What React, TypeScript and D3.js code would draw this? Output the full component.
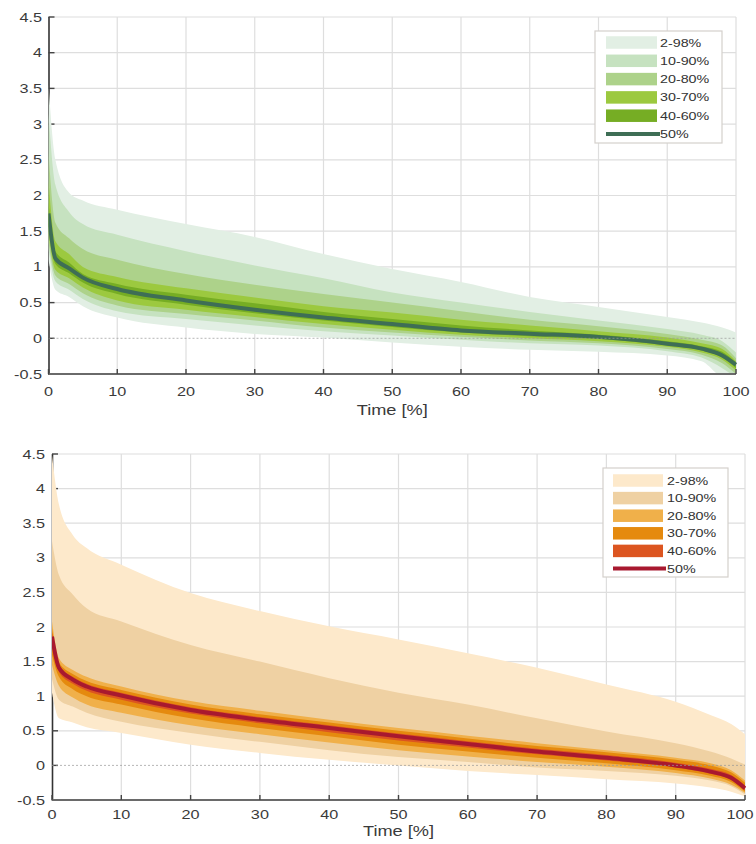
import React from 'react';
import * as d3 from 'd3';

// ---- data -------------------------------------------------------------
const timePct = [0, 1, 3, 5, 10, 20, 30, 40, 50, 60, 70, 80, 90, 95, 98, 100];
const xTicks = [0, 10, 20, 30, 40, 50, 60, 70, 80, 90, 100];
const yTicks = [-0.5, 0, 0.5, 1, 1.5, 2, 2.5, 3, 3.5, 4, 4.5];
const bandLabels = ['2-98%', '10-90%', '20-80%', '30-70%', '40-60%'];
const medianLabel = '50%';
const xTitle = 'Time [%]';

// top panel (green)
const greenP98 = [3.55, 2.5, 2.04, 1.93, 1.8, 1.6, 1.42, 1.18, 0.97, 0.79, 0.58, 0.44, 0.3, 0.22, 0.15, 0.08];
const greenP90 = [3.15, 2.15, 1.77, 1.6, 1.45, 1.22, 1.02, 0.84, 0.64, 0.5, 0.37, 0.25, 0.13, 0.05, -0.04, -0.2];
const greenP80 = [2.6, 1.62, 1.4, 1.25, 1.1, 0.9, 0.75, 0.62, 0.5, 0.38, 0.26, 0.17, 0.06, -0.02, -0.1, -0.28];
const greenP70 = [2.2, 1.36, 1.18, 1.0, 0.86, 0.7, 0.57, 0.45, 0.36, 0.26, 0.18, 0.1, 0.01, -0.07, -0.15, -0.32];
const greenP60 = [1.9, 1.22, 1.06, 0.9, 0.76, 0.61, 0.49, 0.37, 0.27, 0.18, 0.11, 0.05, -0.04, -0.11, -0.19, -0.34];
const greenP50 = [1.75, 1.12, 0.98, 0.85, 0.69, 0.53, 0.4, 0.29, 0.2, 0.11, 0.065, 0.02, -0.075, -0.145, -0.24, -0.37];
const greenP40 = [1.6, 1.04, 0.91, 0.78, 0.62, 0.47, 0.35, 0.25, 0.16, 0.08, 0.03, -0.01, -0.1, -0.17, -0.27, -0.42];
const greenP30 = [1.45, 0.96, 0.84, 0.71, 0.53, 0.4, 0.3, 0.2, 0.12, 0.05, 0.0, -0.04, -0.12, -0.2, -0.3, -0.45];
const greenP20 = [1.35, 0.88, 0.76, 0.63, 0.46, 0.34, 0.25, 0.15, 0.08, 0.02, -0.03, -0.07, -0.15, -0.23, -0.35, -0.5];
const greenP10 = [1.25, 0.8, 0.68, 0.55, 0.38, 0.27, 0.18, 0.1, 0.04, -0.02, -0.07, -0.1, -0.18, -0.27, -0.42, -0.55];
const greenP2 = [1.1, 0.68, 0.58, 0.45, 0.29, 0.15, 0.06, 0.01, -0.06, -0.12, -0.16, -0.19, -0.24, -0.32, -0.55, -0.6];

// bottom panel (orange)
const orangeP98 = [4.48, 3.77, 3.33, 3.14, 2.9, 2.49, 2.23, 2.01, 1.82, 1.62, 1.41, 1.17, 0.92, 0.73, 0.6, 0.45];
const orangeP90 = [3.24, 2.75, 2.47, 2.27, 2.08, 1.74, 1.5, 1.26, 1.05, 0.88, 0.68, 0.49, 0.32, 0.2, 0.1, 0.01];
const orangeP80 = [2.08, 1.55, 1.38, 1.28, 1.14, 0.93, 0.79, 0.66, 0.54, 0.43, 0.32, 0.22, 0.11, 0.03, -0.07, -0.22];
const orangeP70 = [1.98, 1.49, 1.32, 1.22, 1.09, 0.88, 0.74, 0.62, 0.5, 0.39, 0.28, 0.19, 0.08, 0.0, -0.1, -0.25];
const orangeP60 = [1.92, 1.45, 1.28, 1.18, 1.05, 0.84, 0.7, 0.58, 0.46, 0.35, 0.24, 0.15, 0.04, -0.05, -0.14, -0.29];
const orangeP50 = [1.86, 1.41, 1.24, 1.14, 1.01, 0.8, 0.66, 0.54, 0.42, 0.31, 0.2, 0.11, 0.0, -0.09, -0.18, -0.33];
const orangeP40 = [1.75, 1.35, 1.18, 1.08, 0.95, 0.75, 0.61, 0.48, 0.36, 0.26, 0.16, 0.07, -0.03, -0.12, -0.21, -0.36];
const orangeP30 = [1.6, 1.28, 1.1, 1.0, 0.88, 0.68, 0.54, 0.42, 0.3, 0.2, 0.11, 0.03, -0.07, -0.15, -0.24, -0.38];
const orangeP20 = [1.45, 1.15, 0.98, 0.88, 0.76, 0.58, 0.45, 0.33, 0.22, 0.13, 0.05, -0.02, -0.11, -0.19, -0.28, -0.4];
const orangeP10 = [1.25, 0.95, 0.85, 0.76, 0.63, 0.47, 0.34, 0.22, 0.12, 0.05, -0.03, -0.08, -0.15, -0.22, -0.3, -0.42];
const orangeP2 = [1.05, 0.68, 0.62, 0.55, 0.47, 0.3, 0.18, 0.08, 0.0, -0.08, -0.14, -0.2, -0.26, -0.32, -0.38, -0.45];

const greenColors = ['#e2efe4', '#c6e2c0', '#add28a', '#9cc93f', '#76ad24'];
const greenMedianColor = '#3e6e55';
const orangeColors = ['#fde9cb', '#efd1a3', '#f0b04a', '#e58a0e', '#dc5520'];
const orangeMedianColor = '#a8192f';

const FONT = 'Arial, "Liberation Sans", sans-serif';
const SX = 1.3;

type Legend = { x: number; y: number; w: number; h: number; swX: number; swW: number; swH: number; row0: number; dy: number; textX: number };

function Panel(props: {
  id: string;
  bands: number[][][];
  median: number[];
  colors: string[];
  medianColor: string;
  x0: number; x1: number; yTop: number; yBot: number;
  legend: Legend;
  tickLabelY: number; titleY: number; yLabelX: number; lastLabelDx: number;
}) {
  const { id, bands, median, colors, medianColor, x0, x1, yTop, yBot, legend: L, tickLabelY, titleY, yLabelX, lastLabelDx } = props;
  const x = d3.scaleLinear().domain([0, 100]).range([x0, x1]);
  const y = d3.scaleLinear().domain([-0.5, 4.5]).range([yBot, yTop]);
  const areaGen = (lo: number[], hi: number[]) =>
    d3.area<number>()
      .x((d) => x(d))
      .y0((_, i) => y(lo[i]))
      .y1((_, i) => y(hi[i]))
      .curve(d3.curveMonotoneX)(timePct) || '';
  const lineGen = d3.line<number>()
    .x((d) => x(d))
    .y((_, i) => y(median[i]))
    .curve(d3.curveMonotoneX);

  return (
    <g>
      <defs>
        <clipPath id={id}>
          <rect x={x0} y={yTop - 2} width={x1 - x0 + 1} height={yBot - yTop + 2} />
        </clipPath>
      </defs>
      {/* grid */}
      {yTicks.filter((t) => t !== -0.5 && t !== 0).map((t) => (
        <line key={'gy' + t} x1={x0} x2={x1} y1={y(t)} y2={y(t)} stroke="#dedede" strokeWidth={1.2} />
      ))}
      {xTicks.filter((t) => t !== 0).map((t) => (
        <line key={'gx' + t} x1={x(t)} x2={x(t)} y1={yTop} y2={yBot} stroke="#dedede" strokeWidth={1.2} />
      ))}
      {/* axes */}
      <line x1={x0 + 0.5} x2={x0 + 0.5} y1={yTop} y2={yBot + 1} stroke="#333" strokeWidth={1.6} />
      {yTicks.map((t) => (
        <line key={'ty' + t} x1={x0} x2={x0 + 6} y1={y(t)} y2={y(t)} stroke="#444" strokeWidth={1.4} />
      ))}
      {/* bands */}
      <g clipPath={`url(#${id})`}>
        {bands.map((b, i) => (
          <path key={'b' + i} d={areaGen(b[0], b[1])} fill={colors[i]} />
        ))}
        <path d={lineGen(timePct) || ''} fill="none" stroke={medianColor} strokeWidth={4} strokeLinejoin="round" />
      </g>
      <line x1={x0} x2={x1} y1={y(0)} y2={y(0)} stroke="#999" strokeWidth={1} strokeDasharray="2,2" opacity={0.7} />
      <line x1={x0} x2={x1} y1={yBot} y2={yBot} stroke="#6a6a6a" strokeWidth={2} />
      {xTicks.map((t) => (
        <line key={'tx' + t} x1={x(t)} x2={x(t)} y1={yBot} y2={yBot - 5} stroke="#444" strokeWidth={1.4} />
      ))}
      {/* labels */}
      {yTicks.map((t) => (
        <text key={'ly' + t} transform={`translate(${yLabelX},${y(t) + 4.5}) scale(${SX},1)`} textAnchor="end"
          fontFamily={FONT} fontSize={12.5} fill="#3a3a3a">{String(t)}</text>
      ))}
      {xTicks.map((t) => (
        <text key={'lx' + t} transform={`translate(${x(t) + (t === 100 ? lastLabelDx : 0)},${tickLabelY}) scale(${SX},1)`} textAnchor="middle"
          fontFamily={FONT} fontSize={12.5} fill="#3a3a3a">{String(t)}</text>
      ))}
      <text transform={`translate(${(x0 + x1) / 2},${titleY}) scale(${SX},1)`} textAnchor="middle"
        fontFamily={FONT} fontSize={14} fill="#3a3a3a">{xTitle}</text>
      {/* legend */}
      <rect x={L.x} y={L.y} width={L.w} height={L.h} fill="#fff" stroke="#d4d0cc" strokeWidth={1.2} />
      {bandLabels.map((lab, i) => (
        <g key={'lg' + i}>
          <rect x={L.swX} y={L.row0 + i * L.dy - L.swH / 2} width={L.swW} height={L.swH} fill={colors[i]} />
          <text transform={`translate(${L.textX},${L.row0 + i * L.dy + 4}) scale(${SX},1)`} fontFamily={FONT}
            fontSize={11} fill="#333">{lab}</text>
        </g>
      ))}
      <line x1={L.swX} x2={L.swX + L.swW + 3} y1={L.row0 + 5 * L.dy} y2={L.row0 + 5 * L.dy} stroke={medianColor} strokeWidth={4} />
      <text transform={`translate(${L.textX},${L.row0 + 5 * L.dy + 4}) scale(${SX},1)`} fontFamily={FONT}
        fontSize={11} fill="#333">{medianLabel}</text>
    </g>
  );
}

export default function App() {
  const greenBands = [
    [greenP2, greenP98], [greenP10, greenP90], [greenP20, greenP80], [greenP30, greenP70], [greenP40, greenP60],
  ];
  const orangeBands = [
    [orangeP2, orangeP98], [orangeP10, orangeP90], [orangeP20, orangeP80], [orangeP30, orangeP70], [orangeP40, orangeP60],
  ];
  return (
    <svg width={756} height={844} style={{ position: 'absolute', left: 0, top: 0, background: '#fff' }}>
      <rect width={756} height={844} fill="#fff" />
      <Panel id="clipTop" bands={greenBands} median={greenP50} colors={greenColors} medianColor={greenMedianColor}
        x0={48.5} x1={736} yTop={17} yBot={374}
        legend={{ x: 595, y: 31, w: 127, h: 112, swX: 606, swW: 51, swH: 12.5, row0: 42.5, dy: 18.3, textX: 660 }}
        tickLabelY={396} titleY={415} yLabelX={42} lastLabelDx={0} />
      <Panel id="clipBot" bands={orangeBands} median={orangeP50} colors={orangeColors} medianColor={orangeMedianColor}
        x0={52} x1={745} yTop={454} yBot={800}
        legend={{ x: 603, y: 468, w: 125, h: 109, swX: 613, swW: 50, swH: 12.5, row0: 480.5, dy: 17.6, textX: 667 }}
        tickLabelY={819} titleY={836} yLabelX={45} lastLabelDx={-5} />
    </svg>
  );
}
